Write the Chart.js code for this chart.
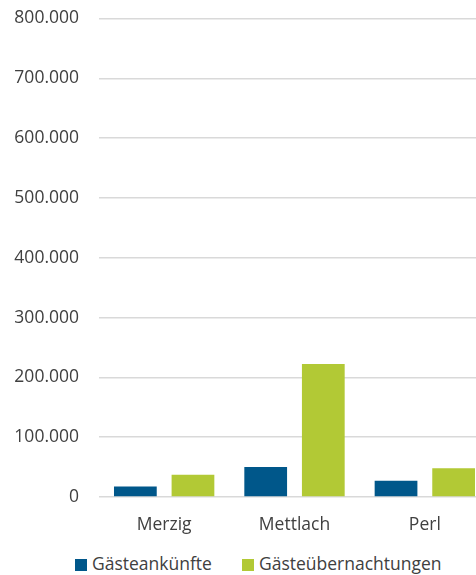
<!DOCTYPE html>
<html lang="de">
<head>
<meta charset="utf-8">
<script src="https://cdn.jsdelivr.net/npm/chart.js@4"></script>
<style>
  html, body { margin: 0; padding: 0; background: #fff; overflow: hidden; width: 476px; height: 575px; }
  #wrap { position: relative; width: 490px; height: 575px; }
  #chart { position: absolute; left: 0; top: -12px; }
  #legend { position: absolute; left: 0; top: 552px; width: 476px; height: 22px;
            font-family: "Open Sans", sans-serif; font-size: 17.5px; color: #404040; }
  .item { position: absolute; top: 0; line-height: 22px; white-space: nowrap; }
  .box { display: inline-block; width: 12px; height: 12px; margin-right: 5px; vertical-align: -1px; }
</style>
</head>
<body>
<div id="wrap">
  <canvas id="chart" width="490" height="558"></canvas>
  <div id="legend"></div>
</div>
<script>
// Daten
const categories = ["Merzig", "Mettlach", "Perl"];
const seriesNames = ["Gästeankünfte", "Gästeübernachtungen"];
const ankuenfte = [17500, 50000, 27000];
const uebernachtungen = [37000, 222500, 48000];
const seriesColors = ["#00578a", "#b2c935"];
const yMax = 800000;
const yStep = 100000;

function fmt(v){
  return String(v).replace(/\B(?=(\d{3})+(?!\d))/g, ".");
}

const ctx = document.getElementById("chart").getContext("2d");
const chart = new Chart(ctx, {
  type: "bar",
  data: {
    labels: categories,
    datasets: [
      { label: seriesNames[0], data: ankuenfte, backgroundColor: seriesColors[0] },
      { label: seriesNames[1], data: uebernachtungen, backgroundColor: seriesColors[1] }
    ]
  },
  options: {
    responsive: false,
    devicePixelRatio: 1,
    animation: false,
    categoryPercentage: 0.884,
    barPercentage: 0.742,
    layout: { padding: { left: 13, top: 8, right: 0, bottom: 0 } },
    plugins: { legend: { display: false }, tooltip: { enabled: false } },
    scales: {
      x: {
        grid: { display: false },
        border: { display: false },
        ticks: { color: "#404040", font: { family: "Open Sans", size: 17.5 }, padding: 10 }
      },
      y: {
        min: 0, max: yMax,
        grid: { color: "#d9d9d9", lineWidth: 1.5, drawTicks: false },
        border: { display: false },
        afterFit: s => { s.width = 86; },
        ticks: {
          stepSize: yStep, padding: 20, color: "#404040",
          font: { family: "Open Sans", size: 17.5 },
          callback: v => fmt(v)
        }
      }
    }
  }
});

// Legende
const legend = document.getElementById("legend");
const legendX = [75, 242];
seriesNames.forEach((name, i) => {
  const el = document.createElement("div");
  el.className = "item";
  el.style.left = legendX[i] + "px";
  el.innerHTML = '<span class="box" style="background:' + seriesColors[i] + '"></span>' + name;
  legend.appendChild(el);
});
</script>
</body>
</html>
